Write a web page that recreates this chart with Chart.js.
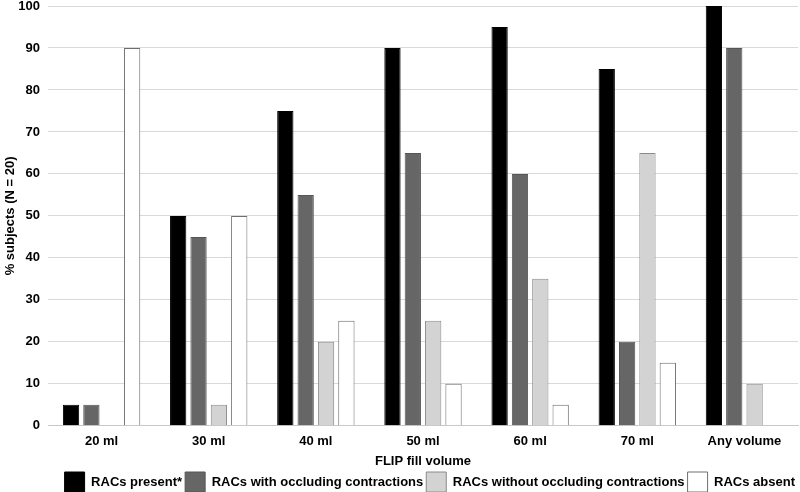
<!DOCTYPE html>
<html lang="en">
<head>
  <meta charset="UTF-8">
  <title>RACs by FLIP fill volume</title>
  <script src="https://cdn.jsdelivr.net/npm/chart.js"></script>
  <style>
    body { margin: 0; background: #fff; font-family: Arial, sans-serif; }
    .wrap { width: 800px; height: 492px; }
  </style>
</head>
<body>
<div class="wrap">
  <canvas id="myChart" width="800" height="492"></canvas>
</div>

<script>
  // data
  const volumes = ['20 ml', '30 ml', '40 ml', '50 ml', '60 ml', '70 ml', 'Any volume'];
  const racsPresent = [5, 50, 75, 90, 95, 85, 100];
  const racsOccluding = [5, 45, 55, 65, 60, 20, 90];
  const racsNonOccluding = [0, 5, 20, 25, 35, 65, 10];
  const racsAbsent = [90, 50, 25, 10, 5, 15, null];
  const yTicks = [0, 10, 20, 30, 40, 50, 60, 70, 80, 90, 100];

  Chart.defaults.font.family = 'Arial, "Liberation Sans", sans-serif';
  Chart.defaults.font.weight = 'bold';
  Chart.defaults.color = '#000';

  const ctx = document.getElementById('myChart').getContext('2d');

  function series(label, data, fill, border) {
    return {
      label: label,
      data: data,
      backgroundColor: fill,
      borderColor: border,
      borderWidth: 1,
      categoryPercentage: 0.76,
      barPercentage: 0.8
    };
  }

  new Chart(ctx, {
    type: 'bar',
    data: {
      labels: volumes,
      datasets: [
        series('RACs present*', racsPresent, '#000000', '#000000'),
        series('RACs with occluding contractions', racsOccluding, '#666666', '#555555'),
        series('RACs without occluding contractions', racsNonOccluding, '#d3d3d3', '#8a8a8a'),
        series('RACs absent', racsAbsent, '#ffffff', '#6e6e6e')
      ]
    },
    options: {
      responsive: false,
      animation: false,
      layout: { padding: { top: 0, right: 2, left: 0, bottom: -10 } },
      plugins: {
        tooltip: { enabled: false },
        legend: {
          position: 'bottom',
          align: 'end',
          labels: {
            boxWidth: 20,
            boxHeight: 20,
            padding: 3,
            font: { size: 13, weight: 'bold' }
          }
        }
      },
      scales: {
        x: {
          grid: { display: false, drawTicks: false },
          border: { color: '#c8c8c8' },
          ticks: { font: { size: 13, weight: 'bold' }, padding: 8 },
          title: {
            display: true,
            text: 'FLIP fill volume',
            font: { size: 13, weight: 'bold' },
            padding: { top: -4, bottom: 0 }
          }
        },
        y: {
          min: 0,
          max: 100,
          afterBuildTicks: axis => { axis.ticks = yTicks.map(v => ({ value: v })); },
          afterFit: axis => { axis.width = 48; axis.paddingTop = 6; },
          grid: { color: '#d9d9d9', drawTicks: false },
          border: { display: false },
          ticks: { font: { size: 13, weight: 'bold' }, padding: 8 },
          title: {
            display: true,
            text: '% subjects (N = 20)',
            font: { size: 13, weight: 'bold' },
            padding: { top: 3, bottom: 0 }
          }
        }
      }
    }
  });
</script>
</body>
</html>
